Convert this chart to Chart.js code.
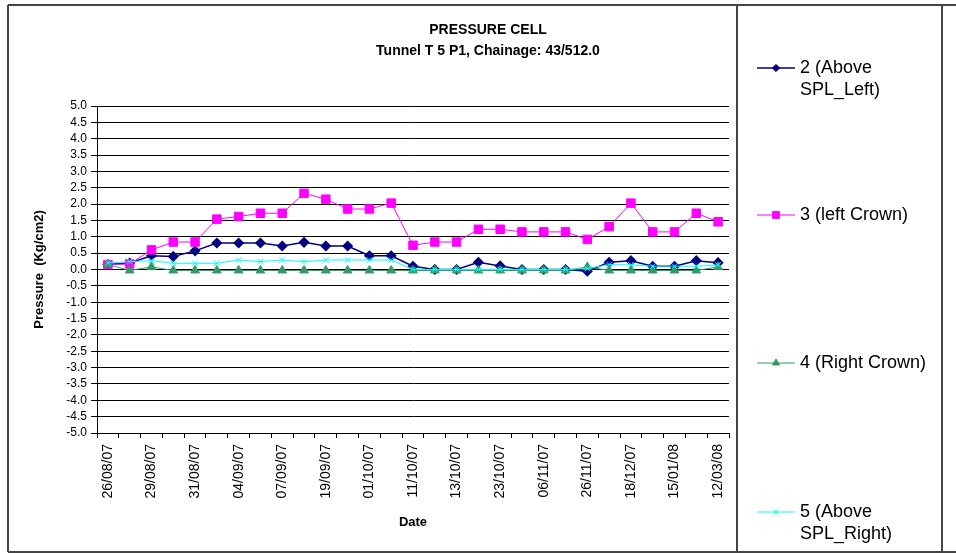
<!DOCTYPE html>
<html>
<head>
<meta charset="utf-8">
<script src="https://cdn.jsdelivr.net/npm/chart.js@4.4.0/dist/chart.umd.min.js"></script>
<style>
  html, body { margin: 0; padding: 0; background: #fff; }
</style>
</head>
<body>
<canvas id="pressureChart" width="956" height="554"></canvas>
<script>
// categories: only every other reading date is labelled on the axis
var dates = ['26/08/07', '', '29/08/07', '', '31/08/07', '', '04/09/07', '', '07/09/07', '',
             '19/09/07', '', '01/10/07', '', '11/10/07', '', '13/10/07', '', '23/10/07', '',
             '06/11/07', '', '26/11/07', '', '18/12/07', '', '15/01/08', '', '12/03/08'];

// pressure readings (Kg/cm2)
var aboveSplLeft  = [0.15, 0.20, 0.42, 0.40, 0.57, 0.81, 0.81, 0.81, 0.72, 0.83, 0.72, 0.72, 0.42, 0.42, 0.10,
                     0.00, 0.00, 0.22, 0.11, 0.00, 0.00, 0.00, -0.05, 0.22, 0.27, 0.10, 0.10, 0.27, 0.21];
var leftCrown     = [0.15, 0.17, 0.60, 0.84, 0.84, 1.54, 1.62, 1.72, 1.72, 2.33, 2.15, 1.85, 1.85, 2.03, 0.74,
                     0.84, 0.84, 1.23, 1.23, 1.15, 1.15, 1.15, 0.92, 1.31, 2.03, 1.15, 1.15, 1.72, 1.46];
var rightCrown    = [0.15, -0.03, 0.08, -0.03, -0.03, -0.03, -0.03, -0.03, -0.03, -0.03, -0.03, -0.03, -0.03, -0.03, -0.03,
                     -0.03, -0.03, -0.03, -0.03, -0.03, -0.03, -0.03, 0.08, -0.03, -0.03, -0.03, -0.03, -0.03, 0.08];
var aboveSplRight = [0.20, 0.24, 0.27, 0.19, 0.19, 0.19, 0.29, 0.24, 0.29, 0.24, 0.29, 0.29, 0.29, 0.29, 0.00,
                     0.00, 0.00, 0.00, 0.00, 0.00, 0.00, 0.00, 0.03, 0.15, 0.14, 0.10, 0.10, 0.10, 0.14];

var seriesNames = ['2 (Above SPL_Left)', '3 (left Crown)', '4 (Right Crown)', '5 (Above SPL_Right)'];
var legendLines = [['2 (Above', 'SPL_Left)'], ['3 (left Crown)'], ['4 (Right Crown)'], ['5 (Above', 'SPL_Right)']];

var FONT = '"Liberation Sans", Arial, sans-serif';

// frame, title and the side legend panel
var decorPlugin = {
  id: 'decor',
  afterDraw: function (chart) {
    var ctx = chart.ctx;
    ctx.save();

    // outer frame + legend panel separators
    ctx.strokeStyle = '#444';
    ctx.lineWidth = 2;
    ctx.beginPath();
    ctx.moveTo(8, 5); ctx.lineTo(956, 5);
    ctx.moveTo(8, 5); ctx.lineTo(8, 552);
    ctx.moveTo(8, 552); ctx.lineTo(956, 552);
    ctx.moveTo(737, 5); ctx.lineTo(737, 552);
    ctx.moveTo(942, 5); ctx.lineTo(942, 552);
    ctx.stroke();

    // title
    ctx.fillStyle = '#000';
    ctx.textAlign = 'center';
    ctx.textBaseline = 'middle';
    ctx.font = 'bold 14px ' + FONT;
    ctx.fillText('PRESSURE CELL', 488, 30);
    ctx.fillText('Tunnel T 5 P1, Chainage: 43/512.0', 488, 51);

    // legend
    var rowY = [68, 215, 363, 512];
    ctx.font = '18px ' + FONT;
    ctx.textAlign = 'left';
    chart.data.datasets.forEach(function (ds, i) {
      var y = rowY[i];
      ctx.strokeStyle = ds.borderColor;
      ctx.lineWidth = ds.borderWidth;
      ctx.beginPath();
      ctx.moveTo(757, y); ctx.lineTo(795, y);
      ctx.stroke();
      ctx.fillStyle = ds.pointBackgroundColor;
      ctx.strokeStyle = ds.pointBorderColor;
      ctx.lineWidth = 1;
      Chart.helpers.drawPoint(ctx, { pointStyle: ds.pointStyle, radius: ds.pointRadius * 0.8, borderWidth: 1, rotation: 0 }, 776, y);
      ctx.fillStyle = '#000';
      legendLines[i].forEach(function (line, j) {
        ctx.fillText(line, 800, y + j * 22);
      });
    });

    ctx.restore();
  }
};

var ctx = document.getElementById('pressureChart').getContext('2d');

var pressureChart = new Chart(ctx, {
  type: 'line',
  data: {
    labels: dates,
    datasets: [{
      label: seriesNames[0],
      data: aboveSplLeft,
      borderColor: '#000080',
      backgroundColor: '#000080',
      pointBackgroundColor: '#000080',
      pointBorderColor: '#000080',
      borderWidth: 1.5,
      pointStyle: 'rectRot',
      pointRadius: 4.5,
      order: 3
    }, {
      label: seriesNames[1],
      data: leftCrown,
      borderColor: '#ff00ff',
      backgroundColor: '#ff00ff',
      pointBackgroundColor: '#ff00ff',
      pointBorderColor: '#ff00ff',
      borderWidth: 1,
      pointStyle: 'rect',
      pointRadius: 6,
      order: 2
    }, {
      label: seriesNames[2],
      data: rightCrown,
      borderColor: '#339966',
      backgroundColor: '#339966',
      pointBackgroundColor: '#339966',
      pointBorderColor: '#339966',
      borderWidth: 1,
      pointStyle: 'triangle',
      pointRadius: 5,
      order: 1
    }, {
      label: seriesNames[3],
      data: aboveSplRight,
      borderColor: '#00ffff',
      backgroundColor: '#00ffff',
      pointBackgroundColor: '#00ffff',
      pointBorderColor: '#00ffff',
      borderWidth: 1,
      pointStyle: 'crossRot',
      pointRadius: 4,
      order: 0
    }]
  },
  options: {
    responsive: false,
    animation: false,
    layout: { padding: { left: 8, top: 106, right: 227, bottom: 0 } },
    plugins: {
      legend: { display: false },
      title: { display: false },
      tooltip: { enabled: false }
    },
    scales: {
      x: {
        offset: true,
        ticks: {
          autoSkip: false,
          maxRotation: 90,
          minRotation: 90,
          padding: 6,
          color: '#000',
          font: { family: FONT, size: 14 }
        },
        grid: { offset: true, drawOnChartArea: false, drawTicks: true, tickLength: 5, color: '#000' },
        border: { color: '#000', width: 1 },
        title: {
          display: true,
          text: 'Date',
          color: '#000',
          font: { family: FONT, size: 13, weight: 'bold' },
          padding: { top: 4, bottom: 24 }
        },
        afterFit: function (scale) { scale.height = 121; }
      },
      y: {
        min: -5,
        max: 5,
        ticks: {
          stepSize: 0.5,
          autoSkip: false,
          padding: 4,
          color: '#000',
          font: { family: FONT, size: 12 },
          callback: function (v) { return v.toFixed(1); }
        },
        grid: { color: '#000', lineWidth: 1, drawTicks: true, tickLength: 6 },
        border: { color: '#000', width: 1 },
        title: {
          display: true,
          text: 'Pressure  (Kg/cm2)',
          color: '#000',
          font: { family: FONT, size: 13, weight: 'bold' },
          padding: { top: 24, bottom: 4 }
        },
        afterFit: function (scale) { scale.width = 89; }
      }
    }
  },
  plugins: [decorPlugin]
});
</script>
</body>
</html>
